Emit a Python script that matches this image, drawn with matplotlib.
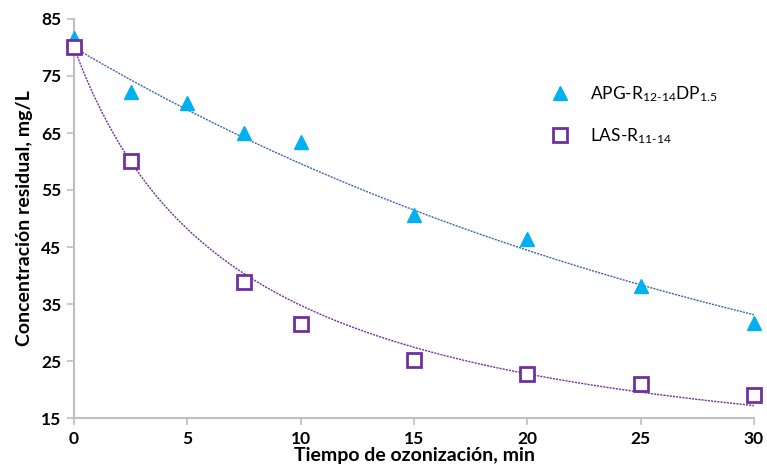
import numpy as np
import matplotlib
matplotlib.use("Agg")
import matplotlib.pyplot as plt

plt.rcParams["font.family"] = ["Lato", "DejaVu Sans"]
plt.rcParams["mathtext.fontset"] = "custom"
plt.rcParams["mathtext.rm"] = "Lato"
plt.rcParams["mathtext.default"] = "regular"

# datos
tiempo_apg = [0, 2.5, 5, 7.5, 10, 15, 20, 25, 30]
conc_apg = [81.6, 72.2, 70.2, 65.0, 63.4, 50.6, 46.4, 38.1, 31.7]

tiempo_las = [0, 2.5, 7.5, 10, 15, 20, 25, 30]
conc_las = [80.0, 60.0, 38.8, 31.5, 25.2, 22.7, 20.9, 19.0]

# parametros de las curvas de tendencia
apg_c0, apg_k = 80.0, 0.0294            # y = c0 * exp(-k t)
las_c0, las_cinf, las_k = 80.0, 2.0, 0.138  # y = cinf + (c0 - cinf) / (1 + k t)

x_ticks = [0, 5, 10, 15, 20, 25, 30]
y_ticks = [15, 25, 35, 45, 55, 65, 75, 85]

color_apg = "#00B0F0"
color_apg_linea = "#3E64B4"
color_las = "#7030A0"
gris = "#BFBFBF"

fig = plt.figure(figsize=(7.67, 4.69), dpi=100)
ax = fig.add_axes([74 / 767, 1 - 418 / 469, 680 / 767, 399 / 469])

t = np.linspace(0, 30, 200)
ax.plot(t, apg_c0 * np.exp(-apg_k * t), color=color_apg_linea, lw=1.0,
        linestyle=(0, (1.5, 0.8)), zorder=2)
ax.plot(t, las_cinf + (las_c0 - las_cinf) / (1 + las_k * t), color=color_las,
        lw=1.0, linestyle=(0, (1.5, 0.8)), zorder=2)

ax.plot(tiempo_apg, conc_apg, linestyle="none", marker="^", markersize=10,
        color=color_apg, clip_on=False, zorder=3,
        label="APG-R$_{12\u201014}$DP$_{1.5}$")
ax.plot(tiempo_las, conc_las, linestyle="none", marker="s", markersize=10,
        markerfacecolor="white", markeredgecolor=color_las, markeredgewidth=2,
        clip_on=False, zorder=4, label="LAS-R$_{11\u201014}$")

ax.set_xlim(0, 30)
ax.set_ylim(15, 85)
ax.set_xticks(x_ticks)
ax.set_yticks(y_ticks)

for lado in ["top", "right"]:
    ax.spines[lado].set_visible(False)
for lado in ["left", "bottom"]:
    ax.spines[lado].set_color(gris)
    ax.spines[lado].set_linewidth(1.5)

ax.tick_params(axis="both", direction="out", length=5, width=1.2, color=gris,
               labelsize=12.5, pad=4)
for lbl in ax.get_xticklabels() + ax.get_yticklabels():
    lbl.set_fontweight("bold")

ax.set_xlabel("Tiempo de ozonización, min", fontsize=14, fontweight="bold",
              labelpad=0)
ax.set_ylabel("Concentración residual, mg/L", fontsize=14, fontweight="bold",
              labelpad=6)

ax.legend(loc="upper left", bbox_to_anchor=(0.672, 0.875), frameon=False,
          fontsize=12.5, handletextpad=1.0, labelspacing=1.25, handlelength=1.5)

fig.savefig("out.png", dpi=100)
